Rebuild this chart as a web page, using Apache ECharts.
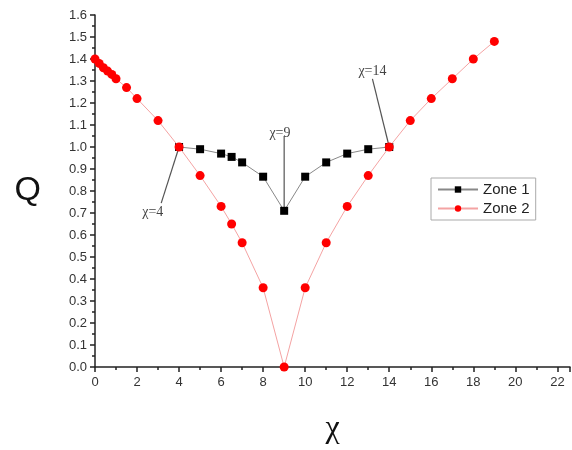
<!DOCTYPE html>
<html>
<head>
<meta charset="utf-8">
<title>Q vs chi</title>
<script src="https://cdn.jsdelivr.net/npm/echarts@6/dist/echarts.min.js"></script>
<style>
  html, body { margin: 0; padding: 0; background: #fff; }
  #chart { width: 572px; height: 450px; }
</style>
</head>
<body>
<div id="chart"></div>
<script>
// Zone 1 (black squares)
var zone1X = [4, 5, 6, 6.5, 7, 8, 9, 10, 11, 12, 13, 14];
var zone1Q = [1.00, 0.99, 0.97, 0.955, 0.93, 0.865, 0.71, 0.865, 0.93, 0.97, 0.99, 1.00];

// Zone 2 (red circles)
var zone2X = [0, 0.2, 0.4, 0.6, 0.8, 1, 1.5, 2, 3, 4, 5, 6, 6.5, 7, 8, 9, 10, 11, 12, 13, 14, 15, 16, 17, 18, 19];
var zone2Q = [1.40, 1.38, 1.36, 1.345, 1.33, 1.31, 1.27, 1.22, 1.12, 1.00, 0.87, 0.73, 0.65, 0.565, 0.36, 0.00,
              0.36, 0.565, 0.73, 0.87, 1.00, 1.12, 1.22, 1.31, 1.40, 1.48];

// annotations: label, pointed data point, line end near text, text position
var noteText  = ['\u03c7=4', '\u03c7=9', '\u03c7=14'];
var notePoint = [[4, 1.0], [9, 0.71], [14, 1.0]];
var noteEnd   = [[3.15, 0.745], [9, 1.05], [13.2, 1.31]];
var noteLabel = [[2.75, 0.705], [8.8, 1.06], [13.2, 1.345]];

function pairs(xs, ys) {
    var out = [];
    for (var i = 0; i < xs.length; i++) out.push([xs[i], ys[i]]);
    return out;
}

var myChart = echarts.init(document.getElementById('chart'));

var option = {
    animation: false,
    backgroundColor: '#fff',
    grid: { left: 95, right: 2, top: 15, bottom: 82 },
    legend: {
        orient: 'vertical',
        left: 431, top: 178,
        data: ['Zone 1', 'Zone 2'],
        itemWidth: 40, itemHeight: 8, itemGap: 4,
        padding: [4, 6, 4, 6],
        borderColor: '#aaa', borderWidth: 1,
        textStyle: { fontFamily: 'Liberation Sans, Arial', fontSize: 15, color: '#222' }
    },
    xAxis: {
        type: 'value',
        min: 0, max: 22.6, interval: 2,
        name: '\u03c7',
        nameLocation: 'middle',
        nameGap: 46,
        nameTextStyle: { fontFamily: 'Liberation Serif, serif', fontSize: 32, color: '#111' },
        axisLine: { lineStyle: { color: '#222', width: 1.5 } },
        axisTick: { show: true, length: 5, lineStyle: { color: '#222', width: 1.5 } },
        minorTick: { show: true, splitNumber: 2, length: 3, lineStyle: { color: '#222', width: 1.5 } },
        splitLine: { show: false },
        axisLabel: { showMaxLabel: false, margin: 9, color: '#333', fontFamily: 'Liberation Sans, Arial', fontSize: 13 }
    },
    yAxis: {
        type: 'value',
        min: 0, max: 1.6, interval: 0.1,
        name: 'Q',
        nameLocation: 'middle',
        nameRotate: 0,
        nameGap: 54,
        nameTextStyle: { fontFamily: 'Liberation Sans, Arial', fontSize: 34, color: '#111', padding: [42, 0, 0, 0] },
        axisLine: { show: true, lineStyle: { color: '#222', width: 1.5 } },
        axisTick: { show: true, length: 5, lineStyle: { color: '#222', width: 1.5 } },
        minorTick: { show: true, splitNumber: 2, length: 3, lineStyle: { color: '#222', width: 1.5 } },
        splitLine: { show: false },
        axisLabel: {
            margin: 8, color: '#333', fontFamily: 'Liberation Sans, Arial', fontSize: 13,
            formatter: function (v) { return v.toFixed(1); }
        }
    },
    series: [
        {
            name: 'Zone 1',
            type: 'line',
            data: pairs(zone1X, zone1Q),
            symbol: 'rect',
            symbolSize: 8,
            itemStyle: { color: '#000' },
            lineStyle: { color: '#888', width: 1 },
            z: 2
        },
        {
            name: 'Zone 2',
            type: 'line',
            data: pairs(zone2X, zone2Q),
            symbol: 'circle',
            symbolSize: 9,
            itemStyle: { color: '#f00' },
            lineStyle: { color: '#f4a3a3', width: 1 },
            z: 3
        }
    ]
};

myChart.setOption(option);

// leader lines and labels, placed through the chart's own scales
var elements = [];
for (var i = 0; i < noteText.length; i++) {
    var p1 = myChart.convertToPixel({ gridIndex: 0 }, notePoint[i]);
    var p2 = myChart.convertToPixel({ gridIndex: 0 }, noteEnd[i]);
    var pt = myChart.convertToPixel({ gridIndex: 0 }, noteLabel[i]);
    elements.push({
        type: 'line', z: 1,
        shape: { x1: p1[0], y1: p1[1], x2: p2[0], y2: p2[1] },
        style: { stroke: '#555', lineWidth: 1.2 }
    });
    elements.push({
        type: 'text', z: 10,
        x: pt[0], y: pt[1],
        style: {
            text: noteText[i], fill: '#444',
            font: '14px "Liberation Serif", serif',
            align: 'center', verticalAlign: 'middle'
        }
    });
}
myChart.setOption({ graphic: elements });
</script>
</body>
</html>
